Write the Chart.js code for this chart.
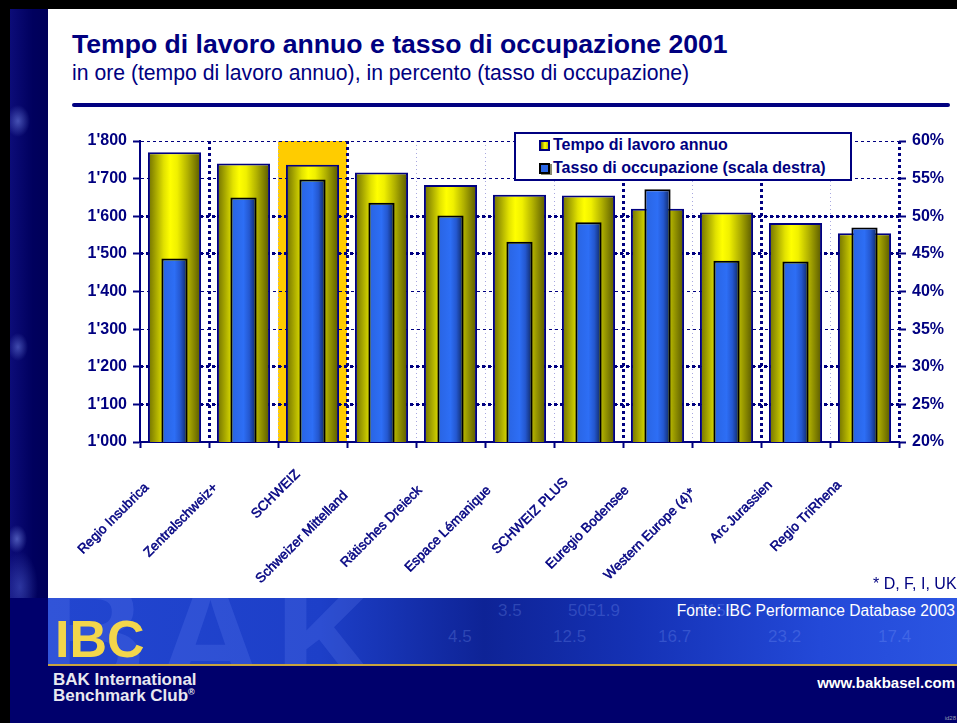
<!DOCTYPE html>
<html>
<head>
<meta charset="utf-8">
<script src="https://cdn.jsdelivr.net/npm/chart.js@4.4.1/dist/chart.umd.min.js"></script>
<style>
html,body{margin:0;padding:0;width:957px;height:723px;overflow:hidden;background:#fff;font-family:'Liberation Sans',Arial,sans-serif;}
#stage{position:relative;width:957px;height:723px;overflow:hidden;background:#fff;}
.abs{position:absolute;}
#topbar{left:0;top:0;width:957px;height:9px;background:#000;}
#leftblack{left:0;top:0;width:10px;height:723px;background:#000;}
#stripe{left:10px;top:9px;width:38px;height:589px;
  background:
   radial-gradient(ellipse 12px 16px at 8px 112px, rgba(120,140,235,0.55), rgba(0,0,100,0) 100%),
   radial-gradient(ellipse 10px 14px at 8px 338px, rgba(120,140,235,0.5), rgba(0,0,100,0) 100%),
   radial-gradient(ellipse 10px 14px at 7px 530px, rgba(130,150,240,0.55), rgba(0,0,100,0) 100%),
   radial-gradient(ellipse 18px 36px at 10px 578px, rgba(90,110,220,0.45), rgba(0,0,100,0) 100%),
   linear-gradient(90deg,#0c0c78,#00005e 60%,#000058);}
#title{left:72px;top:31px;font-size:26.6px;font-weight:bold;color:#000080;line-height:1;white-space:nowrap;}
#subtitle{left:72px;top:62px;font-size:21.2px;color:#000080;line-height:1;white-space:nowrap;}
#rule{left:72px;top:103px;width:878px;height:4px;border-radius:2px;background:#000080;}
#chart{position:absolute;left:0;top:0;}
#legend{left:514px;top:132px;width:334px;height:45px;border:2px solid #000080;background:#fff;}
.litem{position:absolute;left:23px;height:18px;font-size:16px;font-weight:bold;color:#000080;line-height:18px;white-space:nowrap;}
.mk{position:absolute;left:0;top:4px;width:7px;height:7px;}
.mk.y{background:linear-gradient(90deg,#7a7a00,#ffff00 55%,#c8c800);border:2px solid #000080;}
.mk.b{background:#2a66e6;border:2px solid #000;box-shadow:2px 1px 0 #8a8a70;}
.ltxt{position:absolute;left:14px;top:0;}
#note{left:873px;top:576px;font-size:16px;color:#000080;line-height:1;white-space:nowrap;}
#banner{left:10px;top:598px;width:947px;height:125px;background:#00006c;overflow:hidden;}
#bannerTop{left:38px;top:0;width:909px;height:66px;overflow:hidden;
  background:linear-gradient(90deg,#2246d0 0%,#1d3fc8 30%,#0e2396 48%,#1532b6 65%,#2349d8 85%,#2b55e2 100%);}
#ghost{left:-10px;top:-38px;font-size:150px;font-weight:bold;color:rgba(120,150,255,0.18);line-height:1;white-space:nowrap;letter-spacing:10px;}
.num{position:absolute;font-size:17px;color:rgba(140,170,255,0.25);white-space:nowrap;line-height:1;}
#gold{left:38px;top:66px;width:909px;height:2px;background:#c9a43e;}
#ibc{left:45px;top:15px;font-size:52px;font-weight:bold;color:#f3d64b;line-height:1;}
#bak1{left:43px;top:73px;font-size:17px;font-weight:bold;color:#e8e8f0;line-height:1;white-space:nowrap;}
#bak2{left:43px;top:89px;font-size:17px;font-weight:bold;color:#e8e8f0;line-height:1;white-space:nowrap;}
#bak2 sup{font-size:9px;vertical-align:6px;}
#fonte{right:2px;top:5px;font-size:15.6px;color:#ffffff;line-height:1;white-space:nowrap;}
#www{right:2px;top:77px;font-size:15px;font-weight:bold;color:#ffffff;line-height:1;white-space:nowrap;}
#id{right:1px;bottom:2px;font-size:6px;color:#9a9ab0;line-height:1;}
</style>
</head>
<body>
<div id="stage">
  <div id="topbar" class="abs"></div>
  <div id="leftblack" class="abs"></div>
  <div id="stripe" class="abs"></div>
  <div id="title" class="abs">Tempo di lavoro annuo e tasso di occupazione 2001</div>
  <div id="subtitle" class="abs">in ore (tempo di lavoro annuo), in percento (tasso di occupazione)</div>
  <div id="rule" class="abs"></div>
  <canvas id="chart" width="957" height="723"></canvas>
  <div id="legend" class="abs">
    <div class="litem" style="top:2px"><span class="mk y"></span><span class="ltxt">Tempo di lavoro annuo</span></div>
    <div class="litem" style="top:25px"><span class="mk b"></span><span class="ltxt">Tasso di occupazione (scala destra)</span></div>
  </div>
  <div id="note" class="abs">* D, F, I, UK</div>
  <div id="banner" class="abs">
    <div id="bannerTop" class="abs">
      <div id="ghost" class="abs">BAK</div>
      <span class="num" style="left:450px;top:4px">3.5</span>
      <span class="num" style="left:520px;top:4px">5051.9</span>
      <span class="num" style="left:640px;top:4px">15155.5</span>
      <span class="num" style="left:400px;top:30px">4.5</span>
      <span class="num" style="left:505px;top:30px">12.5</span>
      <span class="num" style="left:610px;top:30px">16.7</span>
      <span class="num" style="left:720px;top:30px">23.2</span>
      <span class="num" style="left:830px;top:30px">17.4</span>
    </div>
    <div id="gold" class="abs"></div>
    <div id="ibc" class="abs">IBC</div>
    <div id="bak1" class="abs">BAK International</div>
    <div id="bak2" class="abs">Benchmark Club<sup>®</sup></div>
    <div id="fonte" class="abs">Fonte: IBC Performance Database 2003</div>
    <div id="www" class="abs">www.bakbasel.com</div>
    <div id="id" class="abs">id28</div>
  </div>
</div>
<script>
// ---- data ----
const categories = ['Regio Insubrica','Zentralschweiz+','SCHWEIZ','Schweizer Mittelland','Rätisches Dreieck','Espace Lémanique','SCHWEIZ PLUS','Euregio Bodensee','Western Europe (4)*','Arc Jurassien','Regio TriRhena'];
const workingHours = [1770,1740,1737,1716,1683,1657,1655,1620,1610,1582,1555];
const employmentRate = [44.4,52.5,54.9,51.8,50.1,46.6,49.2,53.6,44.1,44.0,48.5];
const seriesNames = ['Tempo di lavoro annuo','Tasso di occupazione (scala destra)'];
const highlightCategory = 'SCHWEIZ';
const leftAxis = {min:1000, max:1800, step:100};
const rightAxis = {min:20, max:60, step:5};

// ---- styling ----
const NAVY = '#000080';
const YELLOW_PCT = 0.77, BLUE_PCT = 0.38;
const yellowStops = [[0,'#6e6e00'],[0.12,'#9c9c00'],[0.3,'#e2e200'],[0.42,'#ffff00'],[0.55,'#f0f000'],[0.75,'#b0b000'],[1,'#565600']];
const blueStops = [[0,'#173a9c'],[0.12,'#2a66e6'],[0.5,'#2d6ef5'],[0.72,'#2458d0'],[0.88,'#173a8c'],[1,'#0a1a50']];
const thickBoundaries = [1,3,7,9];
const thickRight = [25,30,45,50];

function barGradient(c, stops, pct, fallback){
  if (c.type !== 'data') return fallback;
  const chart = c.chart, xs = chart.scales.x;
  if (!xs || !chart.chartArea) return fallback;
  const w = xs.width / categories.length * pct;
  const cx = xs.getPixelForValue(c.dataIndex);
  const g = chart.ctx.createLinearGradient(cx - w/2, 0, cx + w/2, 0);
  stops.forEach(s => g.addColorStop(s[0], s[1]));
  return g;
}
function fmtThousands(v){
  const s = String(Math.round(v));
  return s.replace(/\B(?=(\d{3})+(?!\d))/g, "'");
}

const bandPlugin = {
  id: 'band',
  beforeDraw(chart){
    const xs = chart.scales.x, a = chart.chartArea, ctx = chart.ctx;
    const i = categories.indexOf(highlightCategory);
    if (i < 0) return;
    const w = xs.width / categories.length;
    const cx = xs.getPixelForValue(i);
    ctx.save();
    ctx.fillStyle = '#ffcc00';
    ctx.fillRect(cx - w/2, a.top, w, a.bottom - a.top);
    ctx.restore();
  }
};

Chart.defaults.font.family = "'Liberation Sans', Arial, sans-serif";

new Chart(document.getElementById('chart'), {
  type: 'bar',
  data: {
    labels: categories,
    datasets: [
      {
        label: seriesNames[0],
        data: workingHours,
        yAxisID: 'y',
        order: 2,
        grouped: false,
        barPercentage: YELLOW_PCT,
        categoryPercentage: 1,
        backgroundColor: c => barGradient(c, yellowStops, YELLOW_PCT, '#e0e000'),
        borderColor: NAVY,
        borderWidth: 2,
        borderSkipped: 'bottom'
      },
      {
        label: seriesNames[1],
        data: employmentRate,
        yAxisID: 'y1',
        order: 1,
        grouped: false,
        barPercentage: BLUE_PCT,
        categoryPercentage: 1,
        backgroundColor: c => barGradient(c, blueStops, BLUE_PCT, '#2a66e6'),
        borderColor: '#000000',
        borderWidth: 2,
        borderSkipped: 'bottom'
      }
    ]
  },
  options: {
    responsive: false,
    animation: false,
    devicePixelRatio: 1,
    layout: { padding: { top: 141, bottom: 123, left: 0, right: 0 } },
    plugins: { legend: { display: false }, tooltip: { enabled: false }, title: { display: false } },
    scales: {
      x: {
        type: 'category',
        offset: true,
        afterFit(s){ s.height = 600 - 442; },
        grid: {
          offset: true,
          drawOnChartArea: true,
          color: c => {
            if (c.type === 'scale' || c.index === undefined) return NAVY;
            if (c.index === 0) return 'rgba(0,0,0,0)';
            return thickBoundaries.includes(c.index) ? NAVY : '#a8a8e0';
          },
          lineWidth: c => {
            if (c.type === 'scale' || c.index === undefined) return 3;
            return thickBoundaries.includes(c.index) ? 3 : 1;
          },
          tickColor: NAVY,
          tickWidth: 2,
          tickLength: 6
        },
        border: {
          display: true, color: NAVY, width: 2,
          dash: c => {
            if (c.type === 'scale' || c.index === undefined) return [3,3];
            return thickBoundaries.includes(c.index) ? [3,3] : [1,3];
          }
        },
        ticks: {
          autoSkip: false,
          minRotation: 45,
          maxRotation: 45,
          padding: 8,
          labelOffset: -4,
          color: NAVY,
          textStrokeColor: NAVY,
          textStrokeWidth: 0.5,
          font: { size: 13.5 },
          callback(value){
            const lbl = this.getLabelForValue(value);
            return lbl + ' '.repeat(Math.round(lbl.length * 0.6));
          }
        }
      },
      y: {
        position: 'left',
        min: leftAxis.min, max: leftAxis.max,
        afterFit(s){ s.width = 140; },
        grid: { color: NAVY, lineWidth: 1, tickColor: NAVY, tickWidth: 2, tickLength: 7 },
        border: { display: true, color: NAVY, width: 2, dash: [3,3] },
        ticks: {
          stepSize: leftAxis.step, padding: 6, color: NAVY,
          font: { size: 16, weight: 'bold' },
          callback: v => fmtThousands(v)
        }
      },
      y1: {
        position: 'right',
        min: rightAxis.min, max: rightAxis.max,
        afterFit(s){ s.width = 58; },
        grid: {
          color: c => (c.tick && thickRight.includes(c.tick.value)) ? NAVY : 'rgba(0,0,0,0)',
          lineWidth: 3,
          tickColor: NAVY, tickWidth: 2, tickLength: 7
        },
        border: { display: false, dash: [3,3] },
        ticks: {
          stepSize: rightAxis.step, padding: 6, color: NAVY,
          font: { size: 16, weight: 'bold' },
          callback: v => v + '%'
        }
      }
    }
  },
  plugins: [bandPlugin]
});
</script>
</body>
</html>
